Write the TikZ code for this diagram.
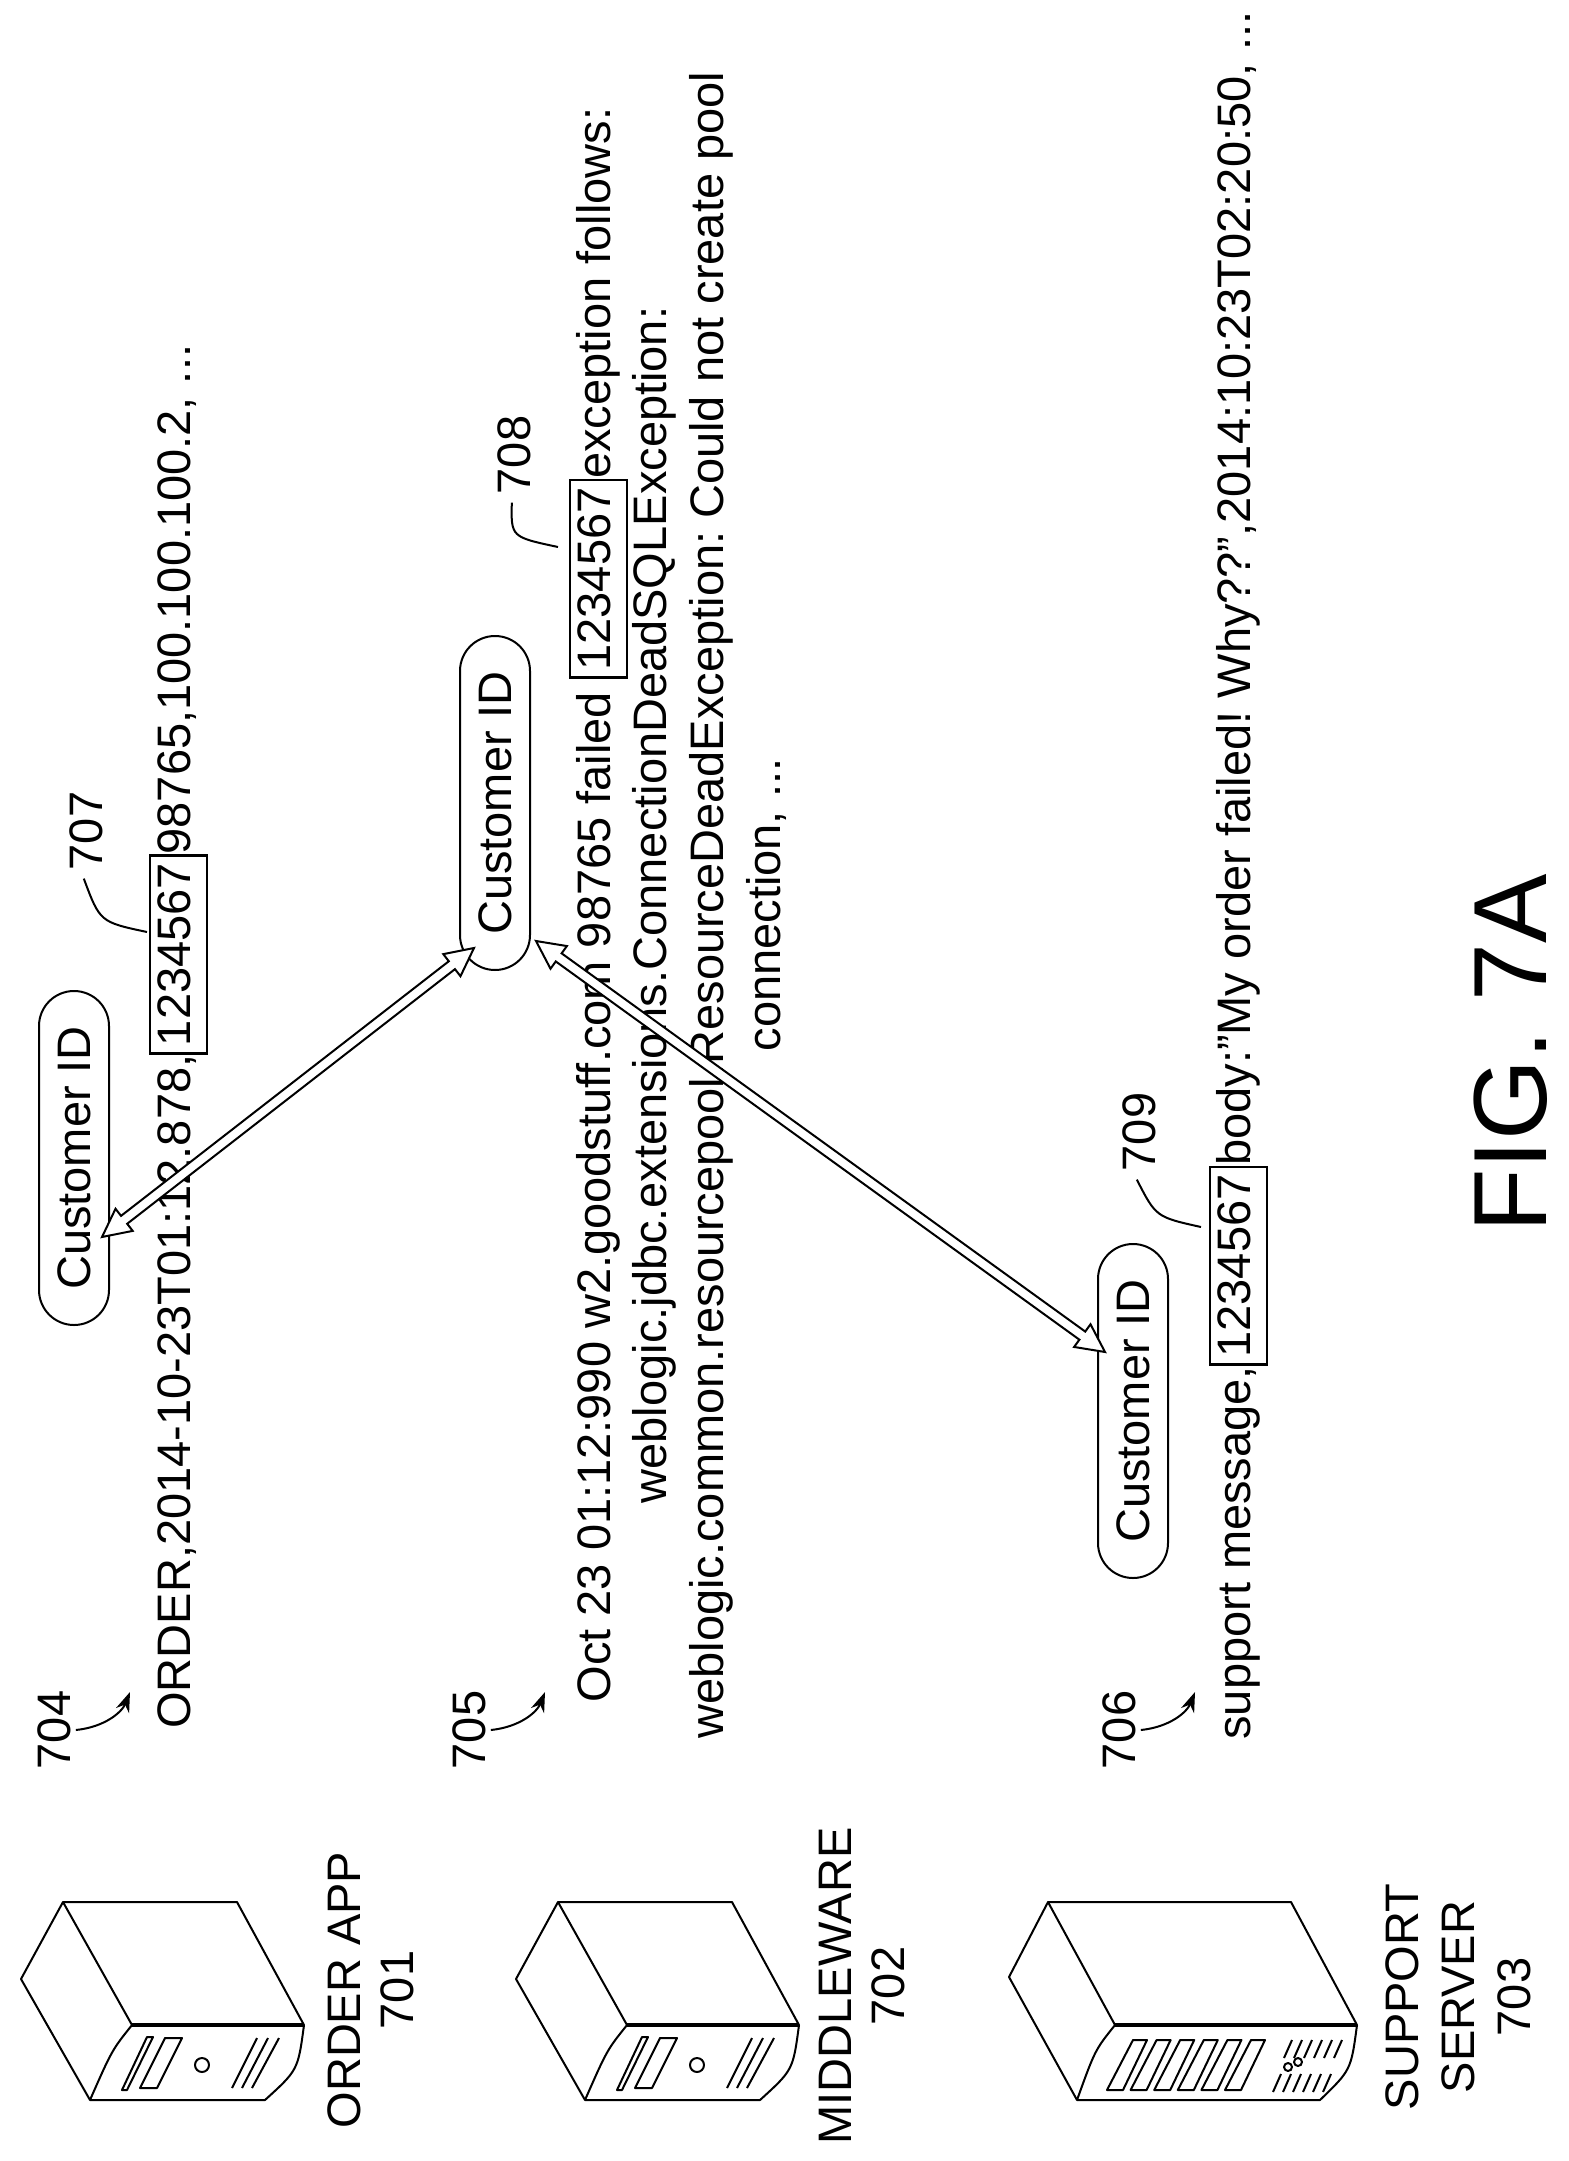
\documentclass[tikz,border=0pt]{standalone}
\usepackage{fontspec}
\setmainfont{Liberation Sans}
\usetikzlibrary{calc,shapes.misc,arrows.meta}
\frenchspacing
\newcommand\bx[1]{{\setlength\fboxsep{3pt}\setlength\fboxrule{1.3pt}\fbox{\vphantom{y}#1}}}
\newcommand\dblarrow[2]{%
 \path ($(#1)!14pt!(#2)$) coordinate (h1) ($(#2)!14pt!(#1)$) coordinate (h2);
 \draw[line width=1pt,fill=white,line join=miter] (#1) -- ($(h1)!7pt!90:(#2)$) -- ($(h1)!2.5pt!90:(#2)$) -- ($(h2)!2.5pt!-90:(#1)$) -- ($(h2)!7pt!-90:(#1)$) -- (#2) -- ($(h2)!7pt!90:(#1)$) -- ($(h2)!2.5pt!90:(#1)$) -- ($(h1)!2.5pt!-90:(#2)$) -- ($(h1)!7pt!-90:(#2)$) -- cycle;}
\tikzset{
 t/.style={rotate=90,inner sep=0pt,font=\fontsize{23.5}{27}\selectfont},
 cid/.style={rounded rectangle,draw,line width=1pt,rotate=90,minimum width=167pt,minimum height=35pt,inner sep=0pt,font=\fontsize{23.5}{27}\selectfont},
 ln/.style={line width=1pt,line join=round},
 curly/.style={line width=1pt,-{Stealth[length=10pt,width=7pt]}},
}
\begin{document}
\begin{tikzpicture}[x=0.5pt,y=-0.5pt]
\useasboundingbox (0,0) rectangle (1568,2161);
% servers 701, 702
\foreach \o in {0,495}{
\begin{scope}[shift={(\o,0)}]
 \draw[ln] (63,1902) -- (237,1902) -- (304,2025) .. controls (298,2070) .. (265,2100) -- (90,2100) -- (21,1979) -- cycle;
 \draw[ln] (63,1902) -- (132,2025) .. controls (112,2050) .. (90,2100);
 \draw[line width=2pt] (132,2025) -- (304,2025);
 \draw[ln] (165,2038) -- (182,2038) -- (157,2088) -- (140,2088) -- cycle;
 \draw[ln] (147,2037) -- (153,2037) -- (127,2090) -- (122,2090) -- cycle;
 \draw[ln] (202,2065) circle[radius=3.5pt];
 \draw[ln] (257,2038) -- (232,2088) (268,2038) -- (242,2088) (279,2038) -- (252,2088);
\end{scope}}
% server 703
\draw[ln] (1048,1902) -- (1291,1902) -- (1357,2025) .. controls (1351,2070) .. (1320,2100) -- (1077,2100) -- (1009,1977) -- cycle;
\draw[ln] (1048,1902) -- (1115,2025) .. controls (1095,2050) .. (1077,2100);
\draw[line width=2pt] (1115,2025) -- (1357,2025);
\foreach \i in {0,...,5}{
 \draw[ln] ({1133+23.6*\i},2040) -- ({1147+23.6*\i},2040) -- ({1123+23.6*\i},2090) -- ({1107+23.6*\i},2090) -- cycle;}
\foreach \j in {0,...,5}{
 \draw[ln] ({1292+10*\j},2040) -- ({1284+10*\j},2058) ({1281+10*\j},2074) -- ({1273+10*\j},2092);}
\draw[ln] (1288,2067) circle[radius=2pt] (1298,2062) circle[radius=2pt];
% server labels
\node[t,align=center,font=\fontsize{23.5}{26.5}\selectfont] (s1) at (371,1990) {ORDER APP\\701};
\node[t,align=center,font=\fontsize{23.5}{26.5}\selectfont] (s2) at (862,1986) {MIDDLEWARE\\702};
\node[t,align=center,font=\fontsize{23.5}{28}\selectfont] (s3) at (1458,1997) {SUPPORT\\SERVER\\703};
% log lines
\node[t,anchor=base west] (l1) at (190,1729) {ORDER,2014-10-23T01:12.878,\bx{1234567}98765,100.100.100.2, ...};
\node[t,anchor=base] (l2) at (610,905) {Oct 23 01:12:990 w2.goodstuff.com 98765 failed \bx{1234567}exception follows:};
\node[t,anchor=base] (l3) at (666,905) {weblogic.jdbc.extensions.ConnectionDeadSQLException:};
\node[t,anchor=base] (l4) at (723,905) {weblogic.common.resourcepool.ResourceDeadException: Could not create pool};
\node[t,anchor=base] (l5) at (780,905) {connection, ...};
\node[t,anchor=base west] (l6) at (1250,1740) {support message,\bx{1234567}body:”My order failed! Why??”,2014:10:23T02:20:50, ...};
% reference numerals
\node[t,anchor=base] (n704) at (70,1730) {704};
\node[t,anchor=base] (n705) at (485,1730) {705};
\node[t,anchor=base] (n706) at (1135,1730) {706};
\node[t,anchor=base] (n707) at (102,831) {707};
\node[t,anchor=base] (n708) at (530,455) {708};
\node[t,anchor=base] (n709) at (1155,1132) {709};
\coordinate (c704) at (130,1692);
\coordinate (c705) at (545,1692);
\coordinate (c706) at (1195,1692);
\draw[curly] (n704.south) ++(5,0) .. controls (105,1727) and (122,1712) .. (c704);
\draw[curly] (n705.south) ++(5,0) .. controls (520,1727) and (537,1712) .. (c705);
\draw[curly] (n706.south) ++(5,0) .. controls (1170,1727) and (1187,1712) .. (c706);
\coordinate (b707) at (147,932);
\coordinate (b708) at (558,547);
\coordinate (b709) at (1201,1227);
\draw[ln] (n707.west) ++(-2,8) .. controls (100,922) .. (b707);
\draw[ln] (n708.west) ++(-2,8) .. controls (511,537) .. (b708);
\draw[ln] (n709.west) ++(-2,8) .. controls (1156,1217) .. (b709);
% customer ID nodes
\node[cid] (id1) at (74,1158) {Customer ID};
\node[cid] (id2) at (495,803) {Customer ID};
\node[cid] (id3) at (1133,1411) {Customer ID};
% connectors
\coordinate (a1) at (102,1237);
\coordinate (a2) at (474,948);
\coordinate (a3) at (536,941);
\coordinate (a4) at (1105,1352);
\dblarrow{a1}{a2}
\dblarrow{a3}{a4}
% figure label
\node[rotate=90,inner sep=0pt,anchor=base west,font=\fontsize{52}{60}\selectfont] (fig) at (1546,1233) {FIG. 7A};
\end{tikzpicture}
\end{document}
